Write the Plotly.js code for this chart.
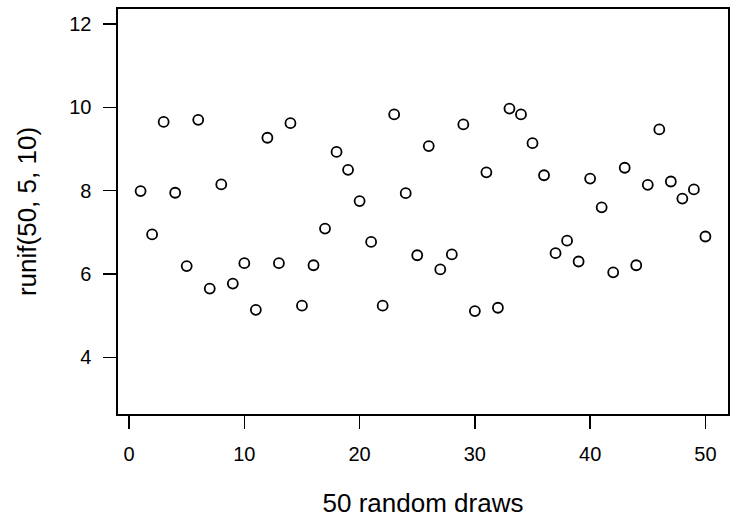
<!DOCTYPE html>
<html>
<head>
<meta charset="utf-8">
<script src="https://cdn.plot.ly/plotly-3.0.1.min.js"></script>
<style>
  html, body { margin: 0; padding: 0; background: #fff; }
  #chart { width: 737px; height: 518px; }
</style>
</head>
<body>
<div id="chart"></div>
<script>
// 50 random draws, runif(50, 5, 10)
const drawIndex = Array.from({length: 50}, (_, i) => i + 1);
const drawValues = [
  7.99, 6.95, 9.65, 7.95, 6.19, 9.70, 5.65, 8.15, 5.77, 6.26,
  5.14, 9.27, 6.26, 9.62, 5.24, 6.21, 7.09, 8.93, 8.50, 7.75,
  6.77, 5.24, 9.83, 7.94, 6.45, 9.07, 6.11, 6.47, 9.59, 5.11,
  8.44, 5.19, 9.97, 9.83, 9.14, 8.37, 6.50, 6.80, 6.30, 8.29,
  7.60, 6.04, 8.55, 6.21, 8.14, 9.47, 8.22, 7.81, 8.03, 6.90
];
const xTickVals = [0, 10, 20, 30, 40, 50];
const yTickVals = [4, 6, 8, 10, 12];
const xTitle = "50 random draws";
const yTitle = "runif(50, 5, 10)";

const font = "Liberation Sans, Arial, Helvetica, sans-serif";

const trace = {
  x: drawIndex,
  y: drawValues,
  type: "scatter",
  mode: "markers",
  marker: {
    symbol: "circle-open",
    size: 10,
    color: "#000",
    line: {color: "#000", width: 1.8}
  },
  hoverinfo: "x+y"
};

const axisCommon = {
  showgrid: false,
  zeroline: false,
  showline: true,
  mirror: true,
  linecolor: "#000",
  linewidth: 1.6,
  ticks: "outside",
  ticklen: 13,
  tickwidth: 1.6,
  tickcolor: "#000",
  tickfont: {family: font, size: 20, color: "#000"}
};

const layout = {
  width: 737,
  height: 518,
  margin: {l: 118, r: 9, t: 9, b: 104},
  paper_bgcolor: "#fff",
  plot_bgcolor: "#fff",
  showlegend: false,
  font: {family: font, color: "#000"},
  xaxis: Object.assign({}, axisCommon, {
    range: [-0.96, 51.96],
    tickmode: "array",
    tickvals: xTickVals,
    ticktext: xTickVals.map(String),
    ticklabelstandoff: 8,
    title: {text: xTitle, font: {family: font, size: 26, color: "#000"}, standoff: 30}
  }),
  yaxis: Object.assign({}, axisCommon, {
    range: [2.64, 12.36],
    tickmode: "array",
    tickvals: yTickVals,
    ticktext: yTickVals.map(String),
    ticklabelstandoff: 8,
    title: {text: yTitle, font: {family: font, size: 26, color: "#000"}, standoff: 25}
  })
};

Plotly.newPlot("chart", [trace], layout, {staticPlot: true, displayModeBar: false});
</script>
</body>
</html>
